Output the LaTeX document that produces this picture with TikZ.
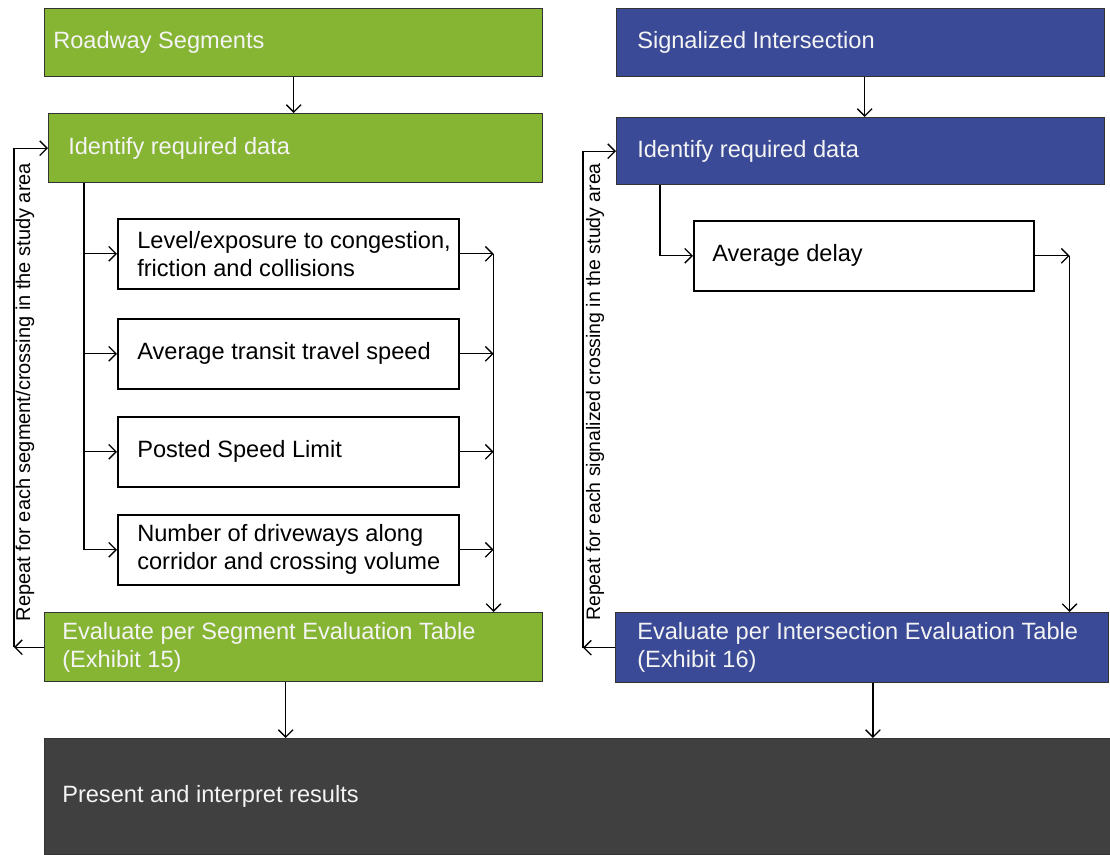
\documentclass[tikz,border=0pt]{standalone}
\usepackage{fontspec}
\setmainfont{Liberation Sans}
\usetikzlibrary{arrows.meta, positioning, calc}
\definecolor{segGreen}{RGB}{134,180,51}
\definecolor{intBlue}{RGB}{58,74,150}
\definecolor{resGray}{RGB}{64,64,64}
\definecolor{boxText}{RGB}{244,244,244}

\begin{document}
\begin{tikzpicture}[x=0.75pt, y=-0.75pt, font=\fontsize{17.7}{21}\selectfont]
    \tikzstyle{block} = [rectangle, anchor=north west, inner sep=0pt]
    \tikzstyle{segbox} = [block, draw=black!80, line width=1.1pt, fill=segGreen]
    \tikzstyle{intbox} = [block, draw=black!80, line width=1.1pt, fill=intBlue]
    \tikzstyle{resbox} = [block, draw=black!80, line width=1.1pt, fill=resGray]
    \tikzstyle{databox} = [block, draw, line width=1.2pt, fill=white,
        minimum width=255.75pt, minimum height=52.5pt]
    \tikzstyle{txt} = [inner sep=0pt, align=left]
    \tikzstyle{wtxt} = [txt, text=boxText]
    \tikzstyle{rtxt} = [inner sep=0pt, rotate=90, font=\fontsize{15}{18}\selectfont]
    \tikzstyle{line} = [draw, line width=1pt, -{Straight Barb[length=5.5pt, width=11pt]}]

    \useasboundingbox (0,0) rectangle (1110,855);

    % roadway segments
    \node [segbox, minimum width=373.5pt, minimum height=51pt] (rs) at (44,8) {};
    \node [wtxt, right=6.75pt of rs.west] (rst) {Roadway Segments};
    \node [segbox, minimum width=370.5pt, minimum height=51.75pt] (idL) at (48,113) {};
    \node [wtxt, right=15pt of idL.west] (idLt) {Identify required data};
    \node [databox] (w1) at (117,218) {};
    \node [txt, right=15pt of w1.west] (w1t) {Level/exposure to congestion,\\friction and collisions};
    \node [databox] (w2) at (117,318) {};
    \node [txt, right=15pt of w2.west] (w2t) {Average transit travel speed};
    \node [databox] (w3) at (117,416) {};
    \node [txt, right=15pt of w3.west] (w3t) {Posted Speed Limit};
    \node [databox] (w4) at (117,514) {};
    \node [txt, right=15pt of w4.west] (w4t) {Number of driveways along\\corridor and crossing volume};
    \node [segbox, minimum width=373.5pt, minimum height=51.75pt] (evL) at (44,612) {};
    \node [wtxt, right=13.5pt of evL.west] (evLt) {Evaluate per Segment Evaluation Table\\(Exhibit 15)};
    %
    % signalized intersection
    \node [intbox, minimum width=366pt, minimum height=51pt] (si) at (616,8) {};
    \node [wtxt, right=15.75pt of si.west] (sit) {Signalized Intersection};
    \node [intbox, minimum width=366pt, minimum height=50.25pt] (idR) at (616,117) {};
    \node [wtxt, right=15.75pt of idR.west] (idRt) {Identify required data};
    \node [databox, minimum width=255pt] (ad) at (693,220) {};
    \node [txt, right=14.25pt of ad.west] (adt) {Average delay};
    \node [intbox, minimum width=369.75pt, minimum height=52.5pt] (evR) at (615,612) {};
    \node [wtxt, right=16.5pt of evR.west] (evRt) {Evaluate per Intersection Evaluation Table\\(Exhibit 16)};
    %
    \node [resbox, minimum width=799.5pt, minimum height=87pt] (pr) at (44,738) {};
    \node [wtxt, right=13.5pt of pr.west] (prt) {Present and interpret results};

    % left column
    \path [line] (rs.south) -- (rs.south |- idL.north);
    \coordinate (trL) at ($(idL.south west)+(36,0)$);
    \coordinate (clL) at ($(w1.east)+(34,0)$);
    \foreach \n in {w1,w2,w3,w4} {
        \path [line] (trL) |- (\n.west);
        \path [line] (\n.east) -- (clL |- \n.east);
    }
    \path [line] (clL) -- (clL |- evL.north);
    \coordinate (lpL) at ($(evL.west)+(-30,0)$);
    \path [line] (evL.west) -- (lpL);
    \path [line] (lpL) |- (idL.west);
    \node [rtxt] (rpL) at (25,392) {Repeat for each segment/crossing in the study area};
    %
    % right column
    \path [line] ([xshift=3pt]si.south) -- ([xshift=3pt]si.south |- idR.north);
    \coordinate (trR) at ($(idR.south west)+(44,0)$);
    \path [line] (trR) |- (ad.west);
    \coordinate (clR) at ($(ad.east)+(35,0)$);
    \path [line] (ad.east) -- (clR);
    \path [line] (clR) -- (clR |- evR.north);
    \coordinate (lpR) at ($(evR.west)+(-32,0)$);
    \path [line] (evR.west) -- (lpR);
    \path [line] (lpR) |- (idR.west);
    \node [rtxt, font=\fontsize{14.6}{18}\selectfont] (rpR) at (595,392) {Repeat for each signalized crossing in the study area};
    %
    \path [line] ([xshift=-6pt]evL.south) -- ([xshift=-6pt]evL.south |- pr.north);
    \path [line] ([xshift=8pt]evR.south) -- ([xshift=8pt]evR.south |- pr.north);

\end{tikzpicture}
\end{document}
